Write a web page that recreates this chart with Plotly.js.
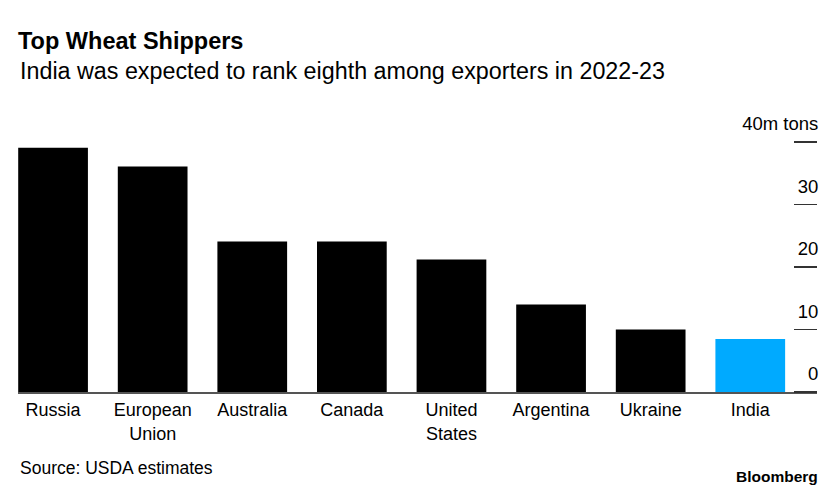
<!DOCTYPE html>
<html>
<head>
<meta charset="utf-8">
<script src="https://cdn.plot.ly/plotly-3.0.1.min.js"></script>
<style>html,body{margin:0;padding:0;background:#fff;}#chart{width:836px;height:487px;}</style>
</head>
<body>
<div id="chart"></div>
<script>
const categories = ["Russia", "European<br>Union", "Australia", "Canada", "United<br>States", "Argentina", "Ukraine", "India"];
const exports2223 = [39.1, 36.1, 24.1, 24.1, 21.2, 14.0, 10.0, 8.5];
const barColors = ["#000000", "#000000", "#000000", "#000000", "#000000", "#000000", "#000000", "#00aaff"];
const yTickVals = [0, 10, 20, 30, 40];
const yTickText = ["0", "10", "20", "30", "40m tons"];

const FONT = "Liberation Sans, Arial, Helvetica, sans-serif";

const trace = {
  type: "bar",
  x: categories.map((c, i) => i),
  y: exports2223,
  marker: { color: barColors, line: { width: 0 } },
  width: 0.70,
  hoverinfo: "skip"
};

const layout = {
  width: 836,
  height: 487,
  margin: { l: 18, r: 19, t: 142, b: 95 },
  paper_bgcolor: "#ffffff",
  plot_bgcolor: "#ffffff",
  showlegend: false,
  font: { family: FONT, color: "#000000", size: 17 },
  title: {
    text: "<b>Top Wheat Shippers</b>",
    font: { family: FONT, size: 23.5, color: "#000000" },
    x: 18 / 836, xref: "container", xanchor: "left",
    y: 1 - 41 / 487, yref: "container", yanchor: "middle"
  },
  xaxis: {
    range: [-0.352, 7.67],
    tickmode: "array",
    tickvals: categories.map((c, i) => i),
    ticktext: categories,
    showgrid: false,
    zeroline: false,
    showline: true,
    linecolor: "#555555",
    linewidth: 1.5,
    ticks: "",
    ticklabelstandoff: 1,
    tickfont: { family: FONT, size: 18, color: "#000000" },
    fixedrange: true
  },
  yaxis: {
    range: [0, 40],
    side: "left",
    anchor: "free",
    position: 1,
    tickmode: "array",
    tickvals: yTickVals,
    ticktext: yTickText,
    showgrid: false,
    zeroline: false,
    showline: false,
    ticks: "outside",
    ticklen: 23,
    tickwidth: 1.5,
    tickcolor: "#333333",
    ticklabelstandoff: -28,
    ticklabelshift: -18,
    tickfont: { family: FONT, size: 18.5, color: "#000000" },
    fixedrange: true
  },
  annotations: [
    {
      text: "India was expected to rank eighth among exporters in 2022-23",
      xref: "paper", yref: "paper", x: 0, y: 1, xanchor: "left", yanchor: "middle",
      yshift: 142 - 71,
      showarrow: false,
      font: { family: FONT, size: 23.3, color: "#000000" }
    },
    {
      text: "Source: USDA estimates",
      xref: "paper", yref: "paper", x: 0, y: 0, xanchor: "left", yanchor: "middle",
      yshift: -(468 - 392),
      showarrow: false,
      font: { family: FONT, size: 17.5, color: "#000000" }
    },
    {
      text: "<b>Bloomberg</b>",
      xref: "paper", yref: "paper", x: 1, y: 0, xanchor: "right", yanchor: "middle",
      yshift: -(476 - 392), xshift: 3,
      showarrow: false,
      font: { family: FONT, size: 15.5, color: "#000000" }
    }
  ]
};

Plotly.newPlot("chart", [trace], layout, { displayModeBar: false, staticPlot: true });
</script>
</body>
</html>
